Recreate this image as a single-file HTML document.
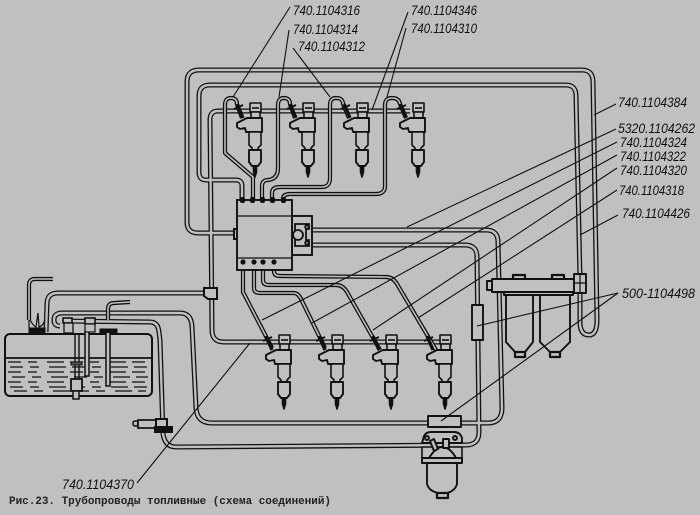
<!DOCTYPE html>
<html><head><meta charset="utf-8"><title>Рис.23</title>
<style>
html,body{margin:0;padding:0;background:#c0c0c0;width:700px;height:515px;overflow:hidden}
svg{display:block}
.l{font-family:"Liberation Sans",sans-serif;font-style:italic;font-size:14px;fill:#111}
.c{font-family:"Liberation Mono",monospace;font-weight:bold;font-size:11px;fill:#222}
</style></head><body>
<svg width="700" height="515" viewBox="0 0 700 515" xmlns="http://www.w3.org/2000/svg">
<rect width="700" height="515" fill="#c0c0c0"/>
<defs>
<g id="p1" fill="none" stroke-linejoin="round">
<!-- A -->
<path d="M234,233 L198,233 Q187,233 187,222 L187,82 Q187,70 199,70 L582,70 Q593,70 593,82 L597,320 Q597,335 589,335 Q580,335 580,322 L580,280"/>
<!-- B -->
<path d="M242,200 L242,186 Q242,180 236,180 L206,180 Q199,180 199,172 L199,96 Q199,85 210,85 L566,85 Q576,85 576,96 L580,280"/>
<!-- return rail top and down -->
<path d="M410,111 L218,111 Q210,111 210,120 L212,330 Q212,342 224,342 L445,342"/>
<!-- to tank -->
<path d="M212,293 L58,293 Q47,293 47,304 L46,332"/>
<!-- D -->
<path d="M312,230 L486,230 Q498,230 498,242 L502,408 Q502,423 488,423 L212,423 Q197,423 196,408 L192,326 Q191,313 180,313 L62,313 Q54,313 54,320 Q54,326 60,326"/>
<!-- F -->
<path d="M312,245 L465,245 Q477,245 477,257 L479,432 Q479,445 466,445 L176,447 Q165,447 163,434 L160,340 L159,332 Q158,322 150,322 L63,321"/>
</g>
<g id="p2" fill="none" stroke-linejoin="round">
<path d="M253,200 L253,177 L225,153 L225,105 Q225,98 231,98 Q237,98 237,104 L242,118"/>
<path d="M262,200 L262,186 Q262,180 268,180 Q278,179 278,168 L278,105 Q278,98 284,98 Q290,98 290,104 L295,118"/>
<path d="M272,200 L272,193 Q272,187 280,187 L322,187 Q330,187 330,178 L330,105 Q330,98 336,98 Q343,98 343,104 L349,118"/>
<path d="M283,200 L283,199 Q283,194 290,194 L376,194 Q385,194 385,186 L385,105 Q385,98 392,98 Q399,98 400,104 L406,118"/>
<path d="M243,262 L243,292 L272,348"/>
<path d="M254,262 L254,288 Q254,293 260,293 L294,293 Q298,293 301,299 L325,348"/>
<path d="M263,262 L263,280 Q263,285 269,285 L336,285 Q343,285 347,292 L380,350"/>
<path d="M274,262 L274,271 Q274,276 280,276 L386,277 Q393,277 397,284 L436,350"/>
<path d="M29,320 L29,285 Q29,279 35,279 L53,279"/>
<path d="M108,320 L108,309 Q108,303 114,303 L130,302"/>
</g>
<g id="inj" fill="#c0c0c0" stroke="#111" stroke-width="1.6" stroke-linejoin="round">
<rect x="-5" y="0" width="11" height="9"/>
<path d="M-3,5 H4" fill="none"/>
<rect x="-4" y="9" width="9" height="6"/>
<path d="M-18,20 L-8,15 L7,15 L7,29 L-9,29 L-10,25 L-15,26 L-18,24 Z" stroke-width="1.9"/>
<path d="M-6,29 H6 V42 L3,45 V47 H-3 V45 L-6,42 Z"/>
<path d="M-6,47 L6,47 L6,59 L3,63 H-3 L-6,59 Z" stroke-width="1.9"/>
<path d="M-1.5,63 H1.5 V69 L0,74 L-1.5,69 Z" fill="#111"/>
<path d="M-18,1 L-12,15" stroke-width="3.4" fill="none"/>
<path d="M-21,6 L-12,2" stroke-width="2" fill="none"/>
</g>
</defs>

<use href="#p1" stroke="#111" stroke-width="5"/>
<use href="#p1" stroke="#c0c0c0" stroke-width="2.4"/>

<!-- tank -->
<g stroke="#111" fill="none">
<rect x="5" y="334" width="147" height="62" rx="5" fill="#c0c0c0" stroke-width="2"/>
<path d="M6,358 H151" stroke-width="1.8"/>
<path d="M8,362 H150 M10,367 H150 M8,372 H150 M12,377 H148 M8,382 H150 M10,387 H148 M14,391 H146" stroke-width="1.3" stroke-dasharray="13 7 9 10 17 6"/>
<path d="M29,328 L29,318 Q33,326 36,327 L38,313 L39,327 Q43,326 45,320" stroke-width="1.2"/>
<rect x="29" y="328" width="16" height="6" fill="#111"/>
<path d="M75,333 V379 M79,333 V379" stroke-width="1.4"/>
<rect x="71" y="379" width="11" height="12" fill="#c0c0c0" stroke-width="1.8"/>
<rect x="73" y="391" width="6" height="8" fill="#c0c0c0" stroke-width="1.5"/>
<rect x="71" y="362" width="11" height="3" fill="#555" stroke-width="1"/>
<path d="M85,330 V376 H89 V330" fill="#c0c0c0" stroke-width="1.5"/>
<path d="M106,332 V386 H110 V332" fill="#c0c0c0" stroke-width="1.5"/>
<rect x="100" y="329" width="17" height="3.5" fill="#111"/>
<rect x="63" y="318" width="9" height="5" fill="#c0c0c0" stroke-width="1.6"/>
<rect x="64" y="323" width="9" height="10" fill="#c0c0c0" stroke-width="1.3"/>
<rect x="85" y="318" width="10" height="6" fill="#c0c0c0" stroke-width="1.6"/>
<rect x="85" y="324" width="10" height="8" fill="#c0c0c0" stroke-width="1.2"/>
</g>

<use href="#p2" stroke="#111" stroke-width="4.2"/>
<use href="#p2" stroke="#c0c0c0" stroke-width="1.6"/>

<!-- T and tank fittings -->
<g stroke="#111" fill="#c0c0c0" stroke-width="2">
<path d="M204,288 H217 V299 H208 L204,296 Z"/>
<rect x="133" y="421" width="5" height="5" rx="2" stroke-width="1.5"/>
<rect x="138" y="420" width="18" height="8" stroke-width="1.7"/>
<rect x="156" y="419" width="11" height="8"/>
<rect x="155" y="427" width="17" height="5" fill="#111"/>
<rect x="234" y="229" width="4" height="10"/>
</g>

<!-- block -->
<g stroke="#111" fill="#c0c0c0" stroke-width="1.9">
<rect x="292" y="216" width="20" height="39"/>
<rect x="237" y="200" width="55" height="70"/>
<path d="M238,216 H292 M238,258 H292" stroke-width="1.2" fill="none"/>
<path d="M295,224 H309 V229 H306 V240 H309 V246 H295 Z" stroke-width="1.8"/>
<circle cx="298" cy="235" r="5" stroke-width="1.8"/>
<circle cx="307" cy="227" r="1.8"/><circle cx="307" cy="243" r="1.8"/>
</g>
<g fill="#111">
<rect x="240" y="197" width="5" height="6" rx="2"/><rect x="250" y="197" width="5" height="6" rx="2"/><rect x="260" y="197" width="5" height="6" rx="2"/><rect x="270" y="197" width="5" height="6" rx="2"/><rect x="281" y="197" width="5" height="6" rx="2"/>
<circle cx="243" cy="262" r="2.6"/><circle cx="254" cy="262" r="2.6"/><circle cx="263" cy="262" r="2.6"/><circle cx="274" cy="262" r="2.6"/>
</g>

<!-- injectors -->
<use href="#inj" x="255" y="103"/>
<use href="#inj" x="308" y="103"/>
<use href="#inj" x="362" y="103"/>
<use href="#inj" x="418" y="103"/>
<use href="#inj" x="284" y="335"/>
<use href="#inj" x="337" y="335"/>
<use href="#inj" x="391" y="335"/>
<use href="#inj" x="445" y="335"/>

<!-- filters -->
<g stroke="#111" fill="#c0c0c0" stroke-width="1.9" stroke-linejoin="round">
<path d="M506,292 V342 L515,352 H525 L533,342 V292 Z"/>
<path d="M540,292 V342 L550,352 H560 L570,342 V292 Z"/>
<rect x="515" y="352" width="10" height="5" stroke-width="2.2"/>
<rect x="550" y="352" width="10" height="5" stroke-width="2.2"/>
<rect x="513" y="275" width="12" height="7" stroke-width="2.2"/>
<rect x="552" y="275" width="12" height="7" stroke-width="2.2"/>
<rect x="492" y="279" width="85" height="13"/>
<path d="M504,292 H573 V295 H504 Z"/>
<rect x="487" y="281" width="5" height="9"/>
<rect x="574" y="274" width="12" height="19"/>
<path d="M574,283 H586 M580,274 V293" stroke-width="1.2" fill="none"/>
<!-- ferrules -->
<rect x="472" y="305" width="11" height="35"/>
<rect x="428" y="416" width="33" height="11"/>
<!-- bottom filter -->
<path d="M422,443 L424,436 Q426,432 431,432 H454 Q460,432 462,438 V443 Z"/>
<rect x="422" y="447" width="40" height="13" stroke-width="1.6"/>
<path d="M429,458 Q436,447 442,447 Q450,447 456,458 Z"/>
<rect x="422" y="458" width="40" height="5" />
<path d="M427,463 V484 Q429,491 438,493 H447 Q455,491 457,484 V463 Z"/>
<rect x="437" y="493" width="11" height="5" stroke-width="2.2"/>
<rect x="443" y="439" width="6" height="9"/>
<path d="M430,441 L434,439 L438,449 L434,451 Z"/>
<circle cx="427" cy="438" r="2"/><circle cx="455" cy="438" r="2"/>
</g>

<!-- leaders -->
<g stroke="#111" stroke-width="1.1" fill="none">
<path d="M290,7 L233,97"/>
<path d="M289,30 L279,97"/>
<path d="M293,48 L330,97"/>
<path d="M408,12 L372,110"/>
<path d="M406,28 L387,97"/>
<path d="M616,104 L594,115"/>
<path d="M616,129 L407,227"/>
<path d="M617,142 L262,320"/>
<path d="M617,155 L312,323"/>
<path d="M617,168 L373,330"/>
<path d="M617,190 L418,318"/>
<path d="M618,215 L580,235"/>
<path d="M618,293 L477,326"/>
<path d="M618,293 L441,421"/>
<path d="M137,483 L250,343"/>
</g>

<!-- labels -->
<text class="l" x="293" y="15" textLength="67" lengthAdjust="spacingAndGlyphs">740.1104316</text>
<text class="l" x="293" y="34" textLength="65" lengthAdjust="spacingAndGlyphs">740.1104314</text>
<text class="l" x="298" y="51" textLength="67" lengthAdjust="spacingAndGlyphs">740.1104312</text>
<text class="l" x="411" y="15" textLength="66" lengthAdjust="spacingAndGlyphs">740.1104346</text>
<text class="l" x="411" y="33" textLength="66" lengthAdjust="spacingAndGlyphs">740.1104310</text>
<text class="l" x="618" y="107" textLength="69" lengthAdjust="spacingAndGlyphs">740.1104384</text>
<text class="l" x="618" y="133" textLength="77" lengthAdjust="spacingAndGlyphs">5320.1104262</text>
<text class="l" x="620" y="147" textLength="67" lengthAdjust="spacingAndGlyphs">740.1104324</text>
<text class="l" x="620" y="161" textLength="66" lengthAdjust="spacingAndGlyphs">740.1104322</text>
<text class="l" x="620" y="175" textLength="67" lengthAdjust="spacingAndGlyphs">740.1104320</text>
<text class="l" x="619" y="195" textLength="65" lengthAdjust="spacingAndGlyphs">740.1104318</text>
<text class="l" x="622" y="218" textLength="68" lengthAdjust="spacingAndGlyphs">740.1104426</text>
<text class="l" x="622" y="298" textLength="73" lengthAdjust="spacingAndGlyphs">500-1104498</text>
<text class="l" x="62" y="489" textLength="72" lengthAdjust="spacingAndGlyphs">740.1104370</text>
<text class="c" x="9" y="504" textLength="322" lengthAdjust="spacingAndGlyphs">Рис.23. Трубопроводы топливные (схема соединений)</text>
</svg>
</body></html>
